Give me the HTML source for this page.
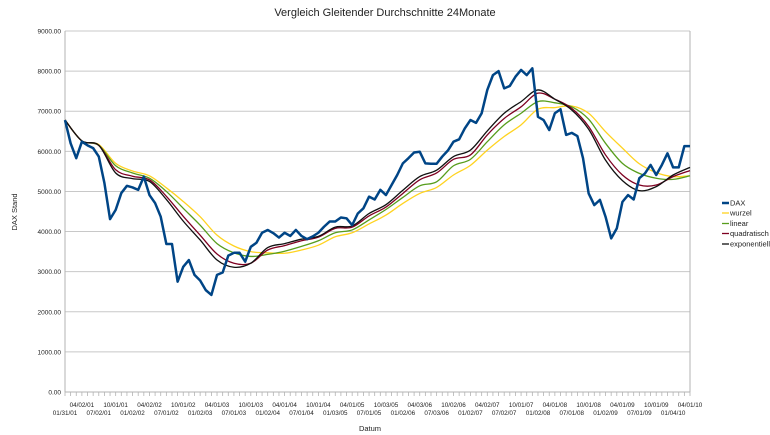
<!DOCTYPE html>
<html><head><meta charset="utf-8"><style>
html,body{margin:0;padding:0;background:#fff;}
svg{display:block;font-family:"Liberation Sans",sans-serif;}
</style></head><body>
<svg id="chart" width="770" height="435" viewBox="0 0 770 435">
<text x="385" y="16" text-anchor="middle" font-size="11" fill="#222">Vergleich Gleitender Durchschnitte 24Monate</text>
<g id="grid"></g>
<g id="yticks"></g>
<g id="xticks"></g>
<g id="series"></g>
<text x="17" y="212" transform="rotate(-90 17 212)" text-anchor="middle" font-size="7.5" fill="#222">DAX Stand</text>
<text x="370" y="431" text-anchor="middle" font-size="7.5" fill="#222">Datum</text>
<g font-size="7.5" fill="#222">
 <g><line x1="722" y1="203" x2="729" y2="203" stroke="#004586" stroke-width="2.5"/><text x="730" y="205.5">DAX</text></g>
 <g><line x1="722" y1="213" x2="729" y2="213" stroke="#ffd320" stroke-width="1.3"/><text x="730" y="215.5">wurzel</text></g>
 <g><line x1="722" y1="223.5" x2="729" y2="223.5" stroke="#579d1c" stroke-width="1.3"/><text x="730" y="226">linear</text></g>
 <g><line x1="722" y1="233.5" x2="729" y2="233.5" stroke="#7e0021" stroke-width="1.3"/><text x="730" y="236">quadratisch</text></g>
 <g><line x1="722" y1="244" x2="729" y2="244" stroke="#111" stroke-width="1.3"/><text x="730" y="246.5">exponentiell</text></g>
</g>
</svg>
<script>
const yTickValues = [0,1000,2000,3000,4000,5000,6000,7000,8000,9000];
const xTopLabels = ["04/02/01","10/01/01","04/02/02","10/01/02","04/01/03","10/01/03","04/01/04","10/01/04","04/01/05","10/03/05","04/03/06","10/02/06","04/02/07","10/01/07","04/01/08","10/01/08","04/01/09","10/01/09","04/01/10"];
const xBottomLabels = ["01/31/01","07/02/01","01/02/02","07/01/02","01/02/03","07/01/03","01/02/04","07/01/04","01/03/05","07/01/05","01/02/06","07/03/06","01/02/07","07/02/07","01/02/08","07/01/08","01/02/09","07/01/09","01/04/10"];
const daxValues = [6780,6200,5830,6240,6150,6080,5870,5210,4310,4540,4960,5140,5100,5040,5370,4910,4710,4370,3690,3690,2750,3120,3290,2920,2780,2540,2420,2920,2980,3400,3470,3470,3250,3620,3720,3970,4040,3960,3850,3970,3890,4040,3890,3810,3880,3970,4120,4250,4250,4350,4330,4160,4450,4580,4870,4800,5040,4910,5160,5410,5700,5830,5970,5990,5700,5690,5690,5870,6020,6240,6300,6570,6780,6710,6950,7530,7900,8000,7570,7630,7860,8030,7900,8070,6860,6780,6530,6950,7050,6410,6460,6380,5830,4950,4660,4790,4370,3830,4080,4740,4910,4800,5330,5450,5660,5410,5660,5950,5600,5600,6130,6130];
const maMonths = [0,3,6,9,12,15,18,21,24,27,30,33,36,39,42,45,48,51,54,57,60,63,66,69,72,75,78,81,84,87,90,93,96,99,102,105,108,111];
const wurzelValues = [6780,6260,6170,5700,5510,5390,5090,4750,4370,3910,3640,3500,3470,3460,3540,3660,3870,3970,4190,4410,4700,4950,5100,5410,5650,6030,6370,6660,7050,7090,7130,6950,6490,6080,5690,5470,5370,5390];
const linearValues = [6780,6260,6150,5640,5460,5330,5000,4580,4160,3700,3470,3380,3430,3510,3630,3770,3970,4040,4290,4550,4850,5140,5240,5640,5800,6240,6660,6950,7240,7210,7110,6800,6200,5700,5450,5330,5300,5390];
const quadratischValues = [6780,6260,6150,5540,5380,5290,4880,4380,3910,3440,3210,3210,3540,3650,3770,3860,4080,4110,4390,4610,4950,5290,5460,5800,5910,6410,6820,7110,7450,7300,7070,6620,5910,5410,5160,5160,5370,5520];
const exponentiellValues = [6780,6260,6150,5460,5320,5250,4800,4260,3790,3290,3110,3210,3600,3700,3810,3880,4110,4140,4450,4670,5030,5370,5530,5870,6030,6510,6950,7240,7530,7300,7030,6550,5780,5270,5020,5120,5410,5600];

const NS = "http://www.w3.org/2000/svg";
const X0 = 65, X1 = 690, Y0 = 392, Y1 = 31, YMAX = 9000;
const nMonths = daxValues.length;
function xScale(i){ return X0 + i * (X1 - X0) / 111; }
function yScale(v){ return Y0 - v * (Y0 - Y1) / YMAX; }
function mk(tag, attrs, parent){ const e = document.createElementNS(NS, tag); for (const k in attrs) e.setAttribute(k, attrs[k]); parent.appendChild(e); return e; }

const grid = document.getElementById('grid');
const yt = document.getElementById('yticks');
yTickValues.forEach(v => {
  const y = yScale(v);
  const l = mk('line', {x1: X0, x2: X1, y1: y, y2: y, stroke: '#c8c8c8', 'stroke-width': 1}, grid);
  
  
  const t = mk('text', {x: X0 - 4, y: y + 2.5, 'text-anchor': 'end', 'font-size': 6.5, fill: '#222'}, yt);
  t.textContent = v.toFixed(2);
  
  
});
const axL = mk('line', {x1: X0, x2: X0, y1: Y1, y2: Y0, stroke: '#b3b3b3', 'stroke-width': 1}, grid);


const axR = mk('line', {x1: X1, x2: X1, y1: Y1, y2: Y0, stroke: '#b3b3b3', 'stroke-width': 1}, grid);


const axB = mk('line', {x1: X0, x2: X1, y1: Y0, y2: Y0, stroke: '#b3b3b3', 'stroke-width': 1}, grid);



const xt = document.getElementById('xticks');
for (let i = 0; i < nMonths; i++) {
  const x = xScale(i);
  const tk = mk('line', {x1: x, x2: x, y1: Y0, y2: Y0 + 4, stroke: '#b3b3b3', 'stroke-width': 0.8}, xt);
  
  
}
xBottomLabels.forEach((s, k) => {
  const t = mk('text', {x: xScale(k * 6), y: 415, 'text-anchor': 'middle', 'font-size': 6.3, fill: '#222'}, xt);
  t.textContent = s;
  
  
});
xTopLabels.forEach((s, k) => {
  const t = mk('text', {x: xScale(k * 6 + 3), y: 407, 'text-anchor': 'middle', 'font-size': 6.3, fill: '#222'}, xt);
  t.textContent = s;
  
  
});

function smoothPath(pts){
  let d = 'M' + pts[0][0].toFixed(2) + ',' + pts[0][1].toFixed(2);
  for (let i = 0; i < pts.length - 1; i++) {
    const p0 = pts[Math.max(0, i - 1)], p1 = pts[i], p2 = pts[i + 1], p3 = pts[Math.min(pts.length - 1, i + 2)];
    const c1x = p1[0] + (p2[0] - p0[0]) / 6, c1y = p1[1] + (p2[1] - p0[1]) / 6;
    const c2x = p2[0] - (p3[0] - p1[0]) / 6, c2y = p2[1] - (p3[1] - p1[1]) / 6;
    d += 'C' + c1x.toFixed(2) + ',' + c1y.toFixed(2) + ' ' + c2x.toFixed(2) + ',' + c2y.toFixed(2) + ' ' + p2[0].toFixed(2) + ',' + p2[1].toFixed(2);
  }
  return d;
}
const sg = document.getElementById('series');
const maSeries = [
  {vals: wurzelValues, color: '#ffd320', name: 'series-wurzel'},
  {vals: linearValues, color: '#579d1c', name: 'series-linear'},
  {vals: quadratischValues, color: '#7e0021', name: 'series-quadratisch'},
  {vals: exponentiellValues, color: '#111111', name: 'series-exponentiell'}
];
maSeries.forEach(s => {
  const pts = s.vals.map((v, k) => [xScale(maMonths[k]), yScale(v)]);
  const p = mk('path', {d: smoothPath(pts), fill: 'none', stroke: s.color, 'stroke-width': 1.3}, sg);
  
  
});
const daxPts = daxValues.map((v, i) => xScale(i).toFixed(2) + ',' + yScale(v).toFixed(2)).join(' ');
const dax = mk('polyline', {points: daxPts, fill: 'none', stroke: '#004586', 'stroke-width': 2.5, 'stroke-linejoin': 'round'}, sg);


</script>
</body></html>
